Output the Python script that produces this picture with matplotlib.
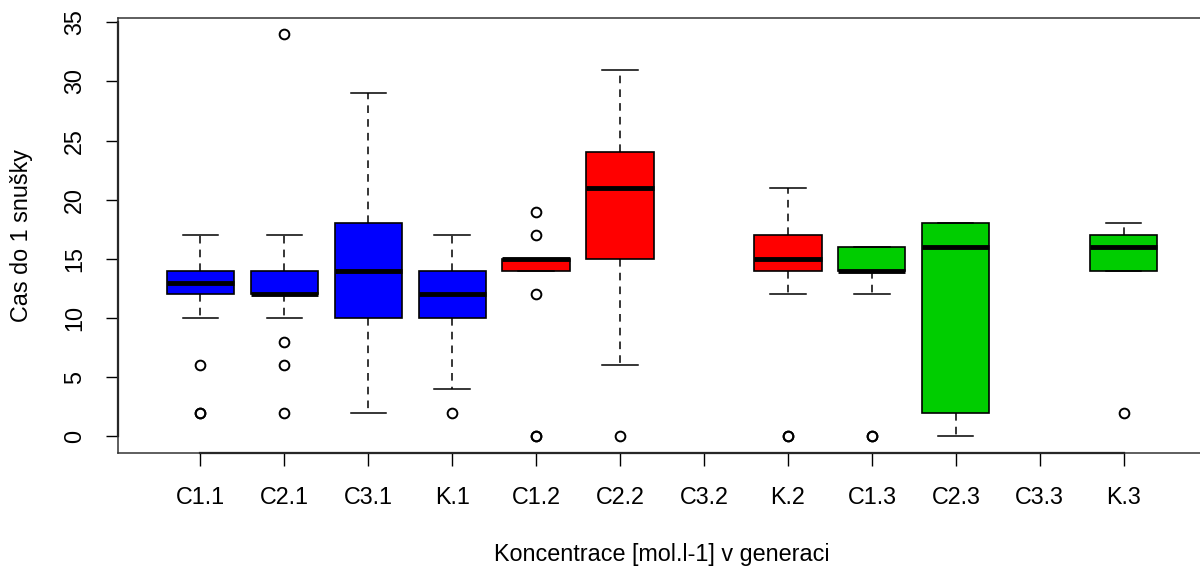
import matplotlib
matplotlib.use("Agg")
import matplotlib.pyplot as plt

plt.rcParams['font.family'] = ['Liberation Sans', 'DejaVu Sans']

# groups (C3.2 and C3.3 have no data)
labels = ["C1.1", "C2.1", "C3.1", "K.1", "C1.2", "C2.2", "C3.2",
          "K.2", "C1.3", "C2.3", "C3.3", "K.3"]
colors = ["#0000FF", "#0000FF", "#0000FF", "#0000FF",
          "#FF0000", "#FF0000", "#FF0000", "#FF0000",
          "#00CD00", "#00CD00", "#00CD00", "#00CD00"]

# box statistics (None = empty group)
whislo = [10, 10, 2, 4, 14, 6, None, 12, 12, 0, None, 14]
q1 = [12, 12, 10, 10, 14, 15, None, 14, 14, 2, None, 14]
med = [13, 12, 14, 12, 15, 21, None, 15, 14, 16, None, 16]
q3 = [14, 14, 18, 14, 15, 24, None, 17, 16, 18, None, 17]
whishi = [17, 17, 29, 17, 15, 31, None, 21, 16, 18, None, 18]
fliers = [[6, 2, 2], [34, 8, 6, 2], [], [2], [19, 17, 12, 0, 0], [0], [],
          [0, 0], [0, 0], [], [], [2]]

fig = plt.figure(figsize=(12, 5.7), dpi=100)
# frame runs slightly past the right edge of the picture, as in the original
ax = fig.add_axes([118 / 1200, 117 / 570, (1206 - 118) / 1200, (453 - 17.5) / 570])

for i in range(len(labels)):
    if med[i] is None:
        continue
    st = dict(med=med[i], q1=q1[i], q3=q3[i], whislo=whislo[i],
              whishi=whishi[i], fliers=fliers[i])
    ax.bxp([st], positions=[i + 1], widths=0.8, patch_artist=True,
           manage_ticks=False,
           boxprops=dict(facecolor=colors[i], edgecolor="black", linewidth=1.2),
           medianprops=dict(color="black", linewidth=3.5, solid_capstyle="butt"),
           whiskerprops=dict(color="black", linewidth=1.1, linestyle=(0, (5, 4))),
           capprops=dict(color="black", linewidth=1.1),
           capwidths=0.42,
           flierprops=dict(marker="o", markerfacecolor="none",
                           markeredgecolor="black", markersize=7,
                           markeredgewidth=1.4, linestyle="none"))

ax.set_xlim(0.02, 12.98)
ax.set_ylim(-1.4, 35.4)
ax.set_xticks(range(1, len(labels) + 1))
ax.set_xticklabels(labels)
ax.set_yticks(range(0, 36, 5))
ax.set_yticklabels([str(v) for v in range(0, 36, 5)], rotation=90, va="center")

ax.tick_params(axis="both", labelsize=16.8, length=9, width=1, color="black")
ax.tick_params(axis="x", pad=15)
ax.tick_params(axis="y", pad=14)

for s in ["top", "left", "bottom"]:
    ax.spines[s].set_linewidth(1.1)
    ax.spines[s].set_color("#333333")
ax.spines["right"].set_visible(False)

# axis lines drawn over the frame between first and last tick
ax.plot([1, 12], [0, 0], transform=ax.get_xaxis_transform(), color="black",
        lw=1.6, clip_on=False)
ax.plot([0, 0], [0, 35], transform=ax.get_yaxis_transform(), color="black",
        lw=1.6, clip_on=False)

ax.set_xlabel("Koncentrace [mol.l-1] v generaci", fontsize=16.8)
ax.set_ylabel("Cas do 1 snušky", fontsize=16.8)
ax.xaxis.set_label_coords((662 - 118) / (1206 - 118), -0.207)
ax.yaxis.set_label_coords((33 - 118) / (1206 - 118), 0.5)

fig.savefig("out.png", dpi=100)
